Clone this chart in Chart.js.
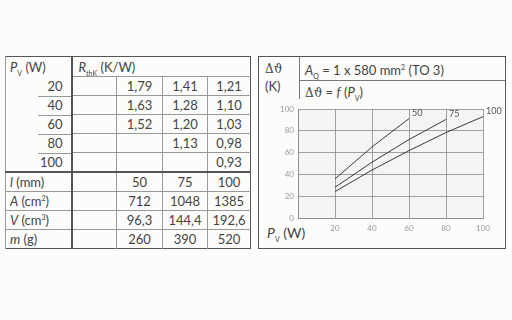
<!DOCTYPE html>
<html>
<head>
<meta charset="utf-8">
<script src="https://cdn.jsdelivr.net/npm/chart.js@4"></script>
<style>
  body { margin: 0; background: #fcfcfb; font-family: Lato, 'Noto Sans', sans-serif; color: #444; }
  #page { position: relative; width: 512px; height: 320px; overflow: hidden; }
  #tbl { position: absolute; left: 5px; top: 56px; width: 245px; border-collapse: collapse; table-layout: fixed; border: 1px solid #555; }
  #tbl td { height: 18px; padding: 0 4px; font-size: 13px; line-height: 18px; white-space: nowrap; text-align: center; border-left: 1px solid #999; border-top: 1px solid #999; }
  #tbl td.lbl { text-align: left; border-right: 2px solid #555; }
  #tbl td.pw { text-align: right; border-right: 2px solid #555; border-top: none; padding-right: 8px;
    background: linear-gradient(#999, #999) right top / 33px 1px no-repeat; }
  #tbl tr.first td.pw { background: none; }
  #tbl tr.head td { height: 19px; border-top: none; }
  #tbl tr.head td.hr { text-align: left; padding-left: 6px; }
  #tbl tr.sep td { border-top: 2px solid #555; }
  #tbl td.blank { border-left: none; }
  i { font-style: italic; }
  sub, sup { font-size: 7px; line-height: 0; }
  #panel { position: absolute; left: 258px; top: 56px; width: 246px; height: 191px; border: 1px solid #555; }
  .ab { position: absolute; white-space: nowrap; }
  #chartWrap { position: absolute; left: 259px; top: 81px; width: 245px; height: 166px; }
</style>
</head>
<body>
<div id="page">
  <table id="tbl">
    <colgroup><col style="width:66px"><col style="width:45px"><col style="width:46px"><col style="width:45px"><col style="width:43px"></colgroup>
    <tbody id="tbody"></tbody>
  </table>

  <div id="panel">
    <div style="position:absolute;left:40px;top:0;width:1px;height:42px;background:#777"></div>
    <div style="position:absolute;left:40px;top:23px;width:206px;height:1px;background:#777"></div>
    <div class="ab" style="left:6px;top:5px;font-family:'DejaVu Serif',serif;font-size:12px">&Delta;&#977;</div>
    <div class="ab" style="left:6px;top:21px;font-size:13px">(K)</div>
    <div class="ab" style="left:46px;top:5px;font-size:13px"><i>A</i><sub>Q</sub> = 1 x 580 mm<sup>2</sup> (TO 3)</div>
    <div class="ab" style="left:46px;top:27px;font-size:13px"><span style="font-family:'DejaVu Serif',serif;font-size:12px">&Delta;&#977;</span> = <i>f</i> (<i>P</i><sub>V</sub>)</div>
    <div class="ab" style="left:8px;top:167px;font-size:14px"><i>P</i><sub>V</sub> (W)</div>
  </div>
  <div id="chartWrap"><canvas id="chart" width="245" height="166"></canvas></div>
</div>

<script>
// ===== Table data =====
const powers = ['20', '40', '60', '80', '100'];
const rth50 = ['1,79', '1,63', '1,52', '', ''];
const rth75 = ['1,41', '1,28', '1,20', '1,13', ''];
const rth100 = ['1,21', '1,10', '1,03', '0,98', '0,93'];
const lengths = ['50', '75', '100'];
const areas = ['712', '1048', '1385'];
const volumes = ['96,3', '144,4', '192,6'];
const masses = ['260', '390', '520'];

// ===== Chart data =====
const xTicks = [0, 20, 40, 60, 80, 100];
const yTicks = [0, 20, 40, 60, 80, 100];
const pv50 = [20, 40, 60];
const dt50 = [35.8, 65.2, 91.2];
const pv75 = [20, 40, 60, 80];
const dt75 = [28.2, 51.2, 72, 90.4];
const pv100 = [20, 40, 60, 80, 100];
const dt100 = [24.2, 44, 61.8, 78.4, 93];
const curveLabels = ['50', '75', '100'];

// ===== Build table =====
let rows = `<tr class="head"><td class="lbl"><i>P</i><sub>V</sub> (W)</td><td class="hr" colspan="4"><i>R</i><sub>thK</sub> (K/W)</td></tr>`;
powers.forEach((p, i) => {
  rows += `<tr class="${i === 0 ? 'first' : ''}"><td class="pw">${p}</td><td></td><td>${rth50[i]}</td><td>${rth75[i]}</td><td>${rth100[i]}</td></tr>`;
});
const lower = [
  ['<i>l</i> (mm)', lengths],
  ['<i>A</i> (cm<sup>2</sup>)', areas],
  ['<i>V</i> (cm<sup>3</sup>)', volumes],
  ['<i>m</i> (g)', masses],
];
lower.forEach(([label, vals], i) => {
  rows += `<tr class="${i === 0 ? 'sep' : ''}"><td class="lbl">${label}</td><td></td>${vals.map(v => `<td>${v}</td>`).join('')}</tr>`;
});
document.getElementById('tbody').innerHTML = rows;

// ===== Chart =====
const toPts = (xs, ys) => xs.map((x, i) => ({ x, y: ys[i] }));

const plotBg = {
  id: 'plotBg',
  beforeDraw(chart) {
    const { ctx, chartArea: a } = chart;
    ctx.save();
    ctx.fillStyle = '#f4f4f2';
    ctx.fillRect(a.left, a.top, a.right - a.left, a.bottom - a.top);
    ctx.restore();
  }
};

const curveLabelPlugin = {
  id: 'curveLabels',
  afterDatasetsDraw(chart) {
    const { ctx } = chart;
    ctx.save();
    ctx.font = '9px Lato, sans-serif';
    ctx.fillStyle = '#555';
    ctx.textBaseline = 'bottom';
    chart.data.datasets.forEach((ds, i) => {
      const meta = chart.getDatasetMeta(i);
      const last = meta.data[meta.data.length - 1];
      ctx.fillText(curveLabels[i], last.x + 3, last.y - 1);
    });
    ctx.restore();
  }
};

const lineStyle = { borderColor: '#3a3a3a', borderWidth: 1, pointRadius: 0, showLine: true, fill: false };

new Chart(document.getElementById('chart'), {
  type: 'scatter',
  data: {
    datasets: [
      { label: '50', data: toPts(pv50, dt50), ...lineStyle },
      { label: '75', data: toPts(pv75, dt75), ...lineStyle },
      { label: '100', data: toPts(pv100, dt100), ...lineStyle },
    ]
  },
  options: {
    responsive: false,
    animation: false,
    layout: { padding: { left: 0, right: 21, top: 28, bottom: 0 } },
    plugins: { legend: { display: false }, tooltip: { enabled: false } },
    scales: {
      x: {
        type: 'linear', min: 0, max: 100,
        afterBuildTicks: s => { s.ticks = xTicks.map(v => ({ value: v })); },
        afterFit: s => { s.height = 29; },
        grid: { color: '#8a8a8a', lineWidth: 0.8, drawTicks: false },
        border: { color: '#8a8a8a', width: 0.8 },
        ticks: { padding: 6, color: '#999', font: { size: 8, family: 'Lato' }, maxRotation: 0,
          callback: v => v === 0 ? '' : v }
      },
      y: {
        type: 'linear', min: 0, max: 100,
        afterBuildTicks: s => { s.ticks = yTicks.map(v => ({ value: v })); },
        afterFit: s => { s.width = 39; },
        grid: { color: '#8a8a8a', lineWidth: 0.8, drawTicks: false },
        border: { color: '#8a8a8a', width: 0.8 },
        ticks: { padding: 4, color: '#999', font: { size: 8, family: 'Lato' } }
      }
    }
  },
  plugins: [plotBg, curveLabelPlugin]
});
</script>
</body>
</html>
